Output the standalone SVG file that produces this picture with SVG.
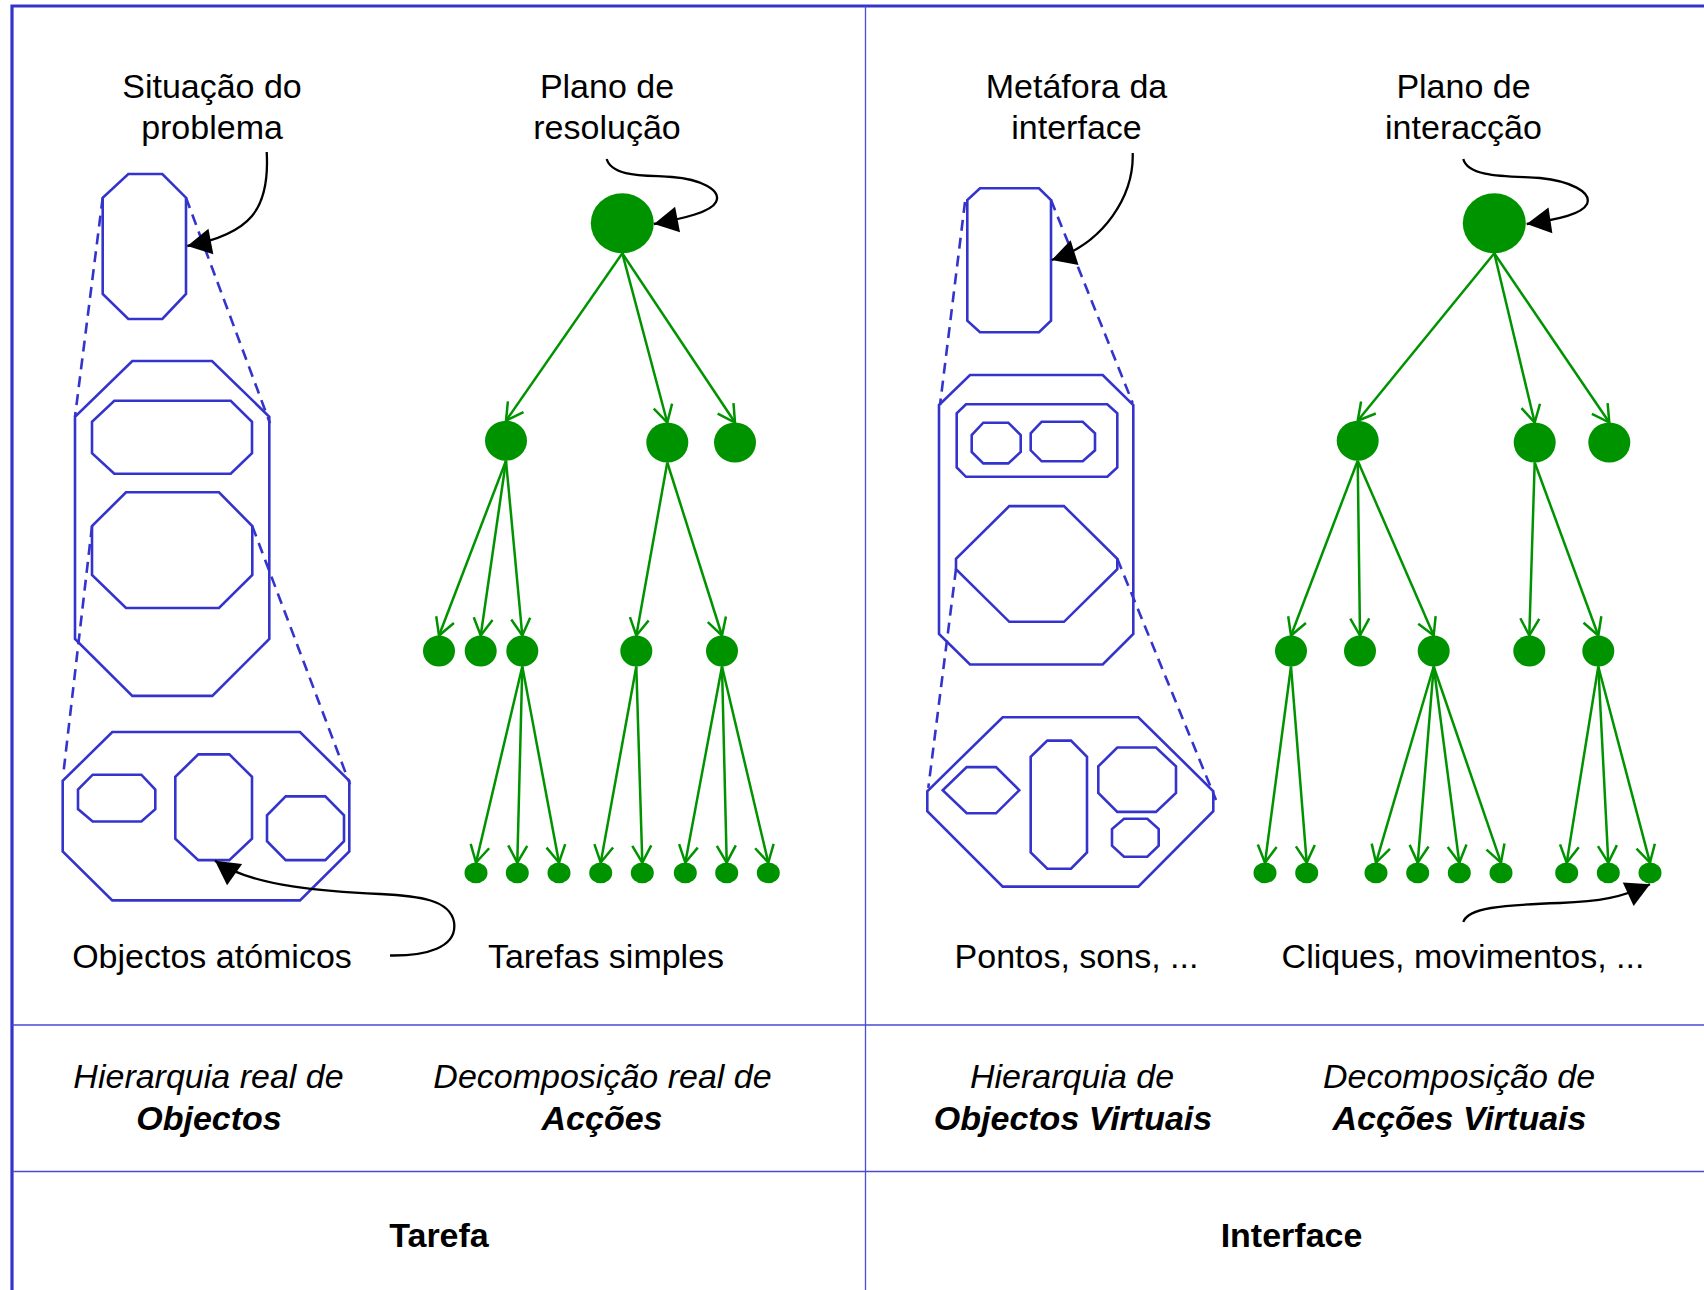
<svg xmlns="http://www.w3.org/2000/svg" width="1704" height="1290" viewBox="0 0 1704 1290">
<style>
text{font-family:"Liberation Sans",Arial,sans-serif;font-size:34px;fill:#000;text-anchor:middle}
.it{font-style:italic}
.bi{font-style:italic;font-weight:bold}
.b{font-weight:bold}
.obj{fill:none;stroke:#3434cc;stroke-width:2.6;stroke-linejoin:miter}
.dash{fill:none;stroke:#3434cc;stroke-width:2.6;stroke-dasharray:11,7}
.node{fill:#009300}
.edge{fill:none;stroke:#009300;stroke-width:2.5;marker-end:url(#gv)}
.call{fill:none;stroke:#000;stroke-width:2.3;marker-end:url(#bk)}
.frame{fill:none;stroke:#3434cc;stroke-width:3.2}
.grid{fill:none;stroke:#4a4ad4;stroke-width:1.3}
</style>
<defs>
<marker id="gv" markerUnits="userSpaceOnUse" orient="auto" overflow="visible" markerWidth="1" markerHeight="1" refX="0" refY="0">
<path d="M-17,-9.5 L0,0 L-17,9.5" fill="none" stroke="#009300" stroke-width="2.5"/>
</marker>
<marker id="bk" markerUnits="userSpaceOnUse" orient="auto" overflow="visible" markerWidth="1" markerHeight="1" refX="0" refY="0">
<path d="M-24,-13 L0,0 L-24,13 z" fill="#000"/>
</marker>
</defs>
<rect width="1704" height="1290" fill="#fff"/>
<g id="frame">
<path class="frame" d="M12,1290 V6 H1704"/>
<path class="grid" d="M865.5,6 V1290 M12,1025 H1704 M12,1171.5 H1704"/>
</g>
<g id="labels-top">
<text x="212" y="98">Situação do</text><text x="212" y="139">problema</text>
<text x="607" y="98">Plano de</text><text x="607" y="139">resolução</text>
<text x="1076.5" y="98">Metáfora da</text><text x="1076.5" y="139">interface</text>
<text x="1463.5" y="98">Plano de</text><text x="1463.5" y="139">interacção</text>
</g>
<g id="labels-bottom">
<text x="212" y="968">Objectos atómicos</text>
<text x="606" y="968">Tarefas simples</text>
<text x="1076.5" y="968">Pontos, sons, ...</text>
<text x="1463" y="968">Cliques, movimentos, ...</text>
</g>
<g id="labels-section">
<text class="it" x="208.5" y="1088">Hierarquia real de</text><text class="bi" x="209" y="1130">Objectos</text>
<text class="it" x="602.5" y="1088">Decomposição real de</text><text class="bi" x="602" y="1130">Acções</text>
<text class="it" x="1072" y="1088">Hierarquia de</text><text class="bi" x="1073" y="1130">Objectos Virtuais</text>
<text class="it" x="1459" y="1088">Decomposição de</text><text class="bi" x="1459.5" y="1130">Acções Virtuais</text>
<text class="b" x="439" y="1247">Tarefa</text>
<text class="b" x="1291.5" y="1247">Interface</text>
</g>
<g id="objects-task">
<polygon id="obj-t-top" class="obj" points="128.3,174 162.3,174 186,197.7 186,294 162.3,319 128.3,319 102.7,294 102.7,197.7"/>
<g id="obj-t-mid">
<polygon class="obj" points="132.3,361 212,361 269.3,416.7 269.3,639 212.3,695.9 132.3,695.9 75,639 75,416.7"/>
<polygon class="obj" points="114.3,400.7 230.7,400.7 252,421.7 252,453.1 230.7,473.7 114.3,473.7 92,453.1 92,421.7"/>
<polygon class="obj" points="126,492.3 219,492.3 252.3,526.1 252.3,575 219,608 126,608 92,575 92,526.1"/>
</g>
<g id="obj-t-bot">
<polygon class="obj" points="112.3,732 300,732 349.3,780.9 349.3,851.5 300,900.4 112.3,900.4 62.7,851.5 62.7,780.9"/>
<polygon class="obj" points="92.7,774.7 141.3,774.7 155.3,789.5 155.3,809.1 141.3,821.5 92.7,821.5 78,809.1 78,789.5"/>
<polygon class="obj" points="198.3,754.4 229.3,754.4 252,776.8 252,838.8 229.3,860.1 198.3,860.1 175.3,838.8 175.3,776.8"/>
<polygon class="obj" points="285.7,796.4 325.3,796.4 344,815.3 344,841.2 325.3,860.1 285.7,860.1 267,841.2 267,815.3"/>
</g>
</g>
<g id="objects-interface">
<polygon id="obj-i-top" class="obj" points="980,188.3 1039,188.3 1051,200 1051,320.7 1039,332.3 980,332.3 967.3,320.7 967.3,200"/>
<g id="obj-i-mid">
<polygon class="obj" points="970,375 1102.7,375 1133.3,405 1133.3,633.9 1102.7,664.5 970,664.5 939,633.9 939,405"/>
<polygon class="obj" points="966,404.3 1107.3,404.3 1117.3,413.3 1117.3,467.5 1107.3,476.8 966,476.8 956.7,467.5 956.7,413.3"/>
<polygon class="obj" points="983.3,422.7 1008.3,422.7 1020.7,435 1020.7,452 1008.3,463.4 983.3,463.4 971.7,452 971.7,435"/>
<polygon class="obj" points="1041.7,421.7 1082.7,421.7 1095,433.3 1095,450.3 1082.7,461.3 1041.7,461.3 1030.7,450.3 1030.7,433.3"/>
<polygon class="obj" points="1009.3,506.1 1064,506.1 1117.3,558.8 1117.3,569.1 1064,621.8 1009.3,621.8 956,569.1 956,558.8"/>
</g>
<g id="obj-i-bot">
<polygon class="obj" points="1002.7,717.2 1138.3,717.2 1213.3,791.2 1213.3,811.2 1138.3,886.6 1002.7,886.6 927.3,811.2 927.3,791.2"/>
<polygon class="obj" points="966.7,767.1 996,767.1 1019.3,790.2 996,813.3 966.7,813.3 942.7,790.2"/>
<polygon class="obj" points="1047.3,740.6 1071,740.6 1087,756.8 1087,852.5 1071,868.7 1047.3,868.7 1030.7,852.5 1030.7,756.8"/>
<polygon class="obj" points="1117.3,747.5 1156,747.5 1176,766.4 1176,793 1156,811.9 1117.3,811.9 1098.3,793 1098.3,766.4"/>
<polygon class="obj" points="1124,818.8 1147.3,818.8 1158.7,829.1 1158.7,845.6 1147.3,856.7 1124,856.7 1112,845.6 1112,829.1"/>
</g>
</g>
<g id="actions-task">
<ellipse id="a-root" class="node" cx="622.3" cy="223.3" rx="31.5" ry="30"/>
<ellipse id="a-1" class="node" cx="506" cy="440.7" rx="21" ry="20"/>
<ellipse id="a-2" class="node" cx="667.3" cy="442.5" rx="21" ry="20"/>
<ellipse id="a-3" class="node" cx="735" cy="442.5" rx="21" ry="20"/>
<ellipse id="a-11" class="node" cx="439" cy="651" rx="16" ry="15.5"/>
<ellipse id="a-12" class="node" cx="480.7" cy="651" rx="16" ry="15.5"/>
<ellipse id="a-13" class="node" cx="522.3" cy="651" rx="16" ry="15.5"/>
<ellipse id="a-21" class="node" cx="636.3" cy="651" rx="16" ry="15.5"/>
<ellipse id="a-22" class="node" cx="722" cy="651" rx="16" ry="15.5"/>
<ellipse id="a-131" class="node" cx="476" cy="872.9" rx="11.5" ry="10.3"/>
<ellipse id="a-132" class="node" cx="517.3" cy="872.9" rx="11.5" ry="10.3"/>
<ellipse id="a-133" class="node" cx="559" cy="872.9" rx="11.5" ry="10.3"/>
<ellipse id="a-211" class="node" cx="600.7" cy="872.9" rx="11.5" ry="10.3"/>
<ellipse id="a-212" class="node" cx="642.3" cy="872.9" rx="11.5" ry="10.3"/>
<ellipse id="a-221" class="node" cx="685.3" cy="872.9" rx="11.5" ry="10.3"/>
<ellipse id="a-222" class="node" cx="726.7" cy="872.9" rx="11.5" ry="10.3"/>
<ellipse id="a-223" class="node" cx="768.3" cy="872.9" rx="11.5" ry="10.3"/>
</g>
<g id="actions-interface">
<ellipse id="v-root" class="node" cx="1494.3" cy="223.3" rx="31.5" ry="30"/>
<ellipse id="v-1" class="node" cx="1357.7" cy="440.7" rx="21" ry="20"/>
<ellipse id="v-2" class="node" cx="1534.7" cy="442.5" rx="21" ry="20"/>
<ellipse id="v-3" class="node" cx="1609.3" cy="442.5" rx="21" ry="20"/>
<ellipse id="v-11" class="node" cx="1291" cy="651" rx="16" ry="15.5"/>
<ellipse id="v-12" class="node" cx="1360" cy="651" rx="16" ry="15.5"/>
<ellipse id="v-13" class="node" cx="1433.7" cy="651" rx="16" ry="15.5"/>
<ellipse id="v-21" class="node" cx="1529.3" cy="651" rx="16" ry="15.5"/>
<ellipse id="v-22" class="node" cx="1598.3" cy="651" rx="16" ry="15.5"/>
<ellipse id="v-111" class="node" cx="1265" cy="872.9" rx="11.5" ry="10.3"/>
<ellipse id="v-112" class="node" cx="1306.7" cy="872.9" rx="11.5" ry="10.3"/>
<ellipse id="v-131" class="node" cx="1376" cy="872.9" rx="11.5" ry="10.3"/>
<ellipse id="v-132" class="node" cx="1417.7" cy="872.9" rx="11.5" ry="10.3"/>
<ellipse id="v-133" class="node" cx="1459.3" cy="872.9" rx="11.5" ry="10.3"/>
<ellipse id="v-134" class="node" cx="1501" cy="872.9" rx="11.5" ry="10.3"/>
<ellipse id="v-221" class="node" cx="1566.7" cy="872.9" rx="11.5" ry="10.3"/>
<ellipse id="v-222" class="node" cx="1608.3" cy="872.9" rx="11.5" ry="10.3"/>
<ellipse id="v-223" class="node" cx="1650" cy="872.9" rx="11.5" ry="10.3"/>
</g>
<g id="connectors">
<path class="dash" d="M102.7,197.7 L75,416.7 M186,197.7 L270,423.3 M92,526.1 L63.3,774 M252.3,526.1 L350,784.4"/>
<path class="dash" d="M965,202 L940,405 M1051,200 L1132.7,403 M956,569 L928.3,787.8 M1117.3,558.8 L1216,800"/>
<path class="edge" d="M622.3,253.3 L506,420.7"/>
<path class="edge" d="M622.3,253.3 L667.3,422.5"/>
<path class="edge" d="M622.3,253.3 L735,422.5"/>
<path class="edge" d="M506,460.7 L439,635.5"/>
<path class="edge" d="M506,460.7 L480.7,635.5"/>
<path class="edge" d="M506,460.7 L522.3,635.5"/>
<path class="edge" d="M667.3,462.5 L636.3,635.5"/>
<path class="edge" d="M667.3,462.5 L722,635.5"/>
<path class="edge" d="M522.3,666.5 L476,862.6"/>
<path class="edge" d="M522.3,666.5 L517.3,862.6"/>
<path class="edge" d="M522.3,666.5 L559,862.6"/>
<path class="edge" d="M636.3,666.5 L600.7,862.6"/>
<path class="edge" d="M636.3,666.5 L642.3,862.6"/>
<path class="edge" d="M722,666.5 L685.3,862.6"/>
<path class="edge" d="M722,666.5 L726.7,862.6"/>
<path class="edge" d="M722,666.5 L768.3,862.6"/>
<path class="edge" d="M1494.3,253.3 L1357.7,420.7"/>
<path class="edge" d="M1494.3,253.3 L1534.7,422.5"/>
<path class="edge" d="M1494.3,253.3 L1609.3,422.5"/>
<path class="edge" d="M1357.7,460.7 L1291,635.5"/>
<path class="edge" d="M1357.7,460.7 L1360,635.5"/>
<path class="edge" d="M1357.7,460.7 L1433.7,635.5"/>
<path class="edge" d="M1534.7,462.5 L1529.3,635.5"/>
<path class="edge" d="M1534.7,462.5 L1598.3,635.5"/>
<path class="edge" d="M1291,666.5 L1265,862.6"/>
<path class="edge" d="M1291,666.5 L1306.7,862.6"/>
<path class="edge" d="M1433.7,666.5 L1376,862.6"/>
<path class="edge" d="M1433.7,666.5 L1417.7,862.6"/>
<path class="edge" d="M1433.7,666.5 L1459.3,862.6"/>
<path class="edge" d="M1433.7,666.5 L1501,862.6"/>
<path class="edge" d="M1598.3,666.5 L1566.7,862.6"/>
<path class="edge" d="M1598.3,666.5 L1608.3,862.6"/>
<path class="edge" d="M1598.3,666.5 L1650,862.6"/>
<path class="call" d="M266.7,152 C270,210 250,234 187.3,246"/>
<path class="call" d="M606.7,159 C612,178 650,175 672,177 C700,179 722,190 716,202 C711,212 685,218 654,224"/>
<path class="call" d="M1132.7,153 C1134,195 1105,243 1051.7,260"/>
<path class="call" d="M1463.3,159 C1468,178 1510,176 1540,178 C1570,181 1592,192 1587,204 C1582,214 1560,219 1526.7,224"/>
<path class="call" d="M390,955.5 C425,956 458,948 454,922 C450,900 420,896 380,894 C330,892 252,887 215,860.8"/>
<path class="call" d="M1463.3,922 C1468,908 1500,905 1560,903 C1600,901.5 1620,898 1650,884.2"/>
</g>
</svg>
